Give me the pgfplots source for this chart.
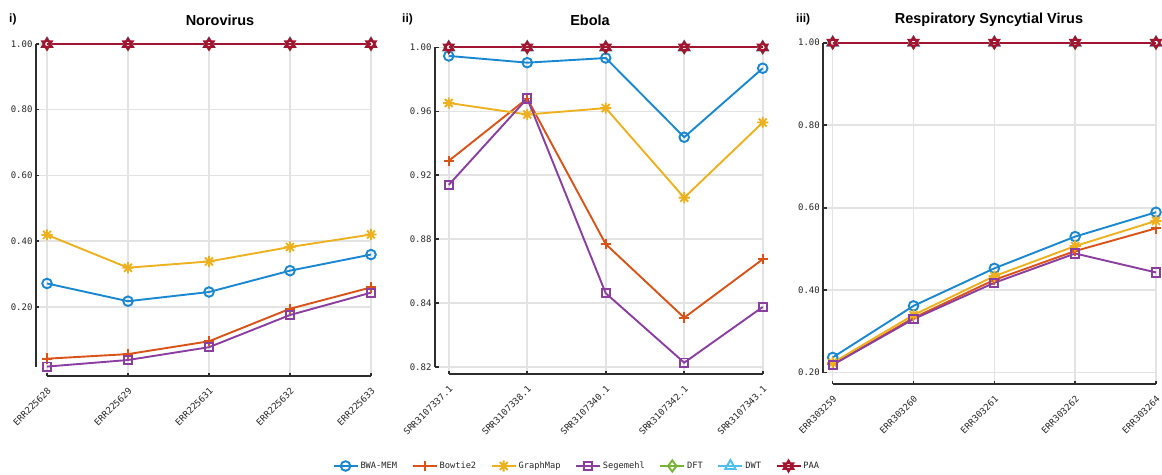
\documentclass[border=0pt]{standalone}
\usepackage{pgfplots}
\pgfplotsset{compat=1.18}
\usepackage{fontspec}
\setmainfont{Liberation Sans}
\newfontfamily\monof{DejaVu Sans Mono}
\definecolor{cBWA}{RGB}{26,136,208}
\definecolor{cBow}{RGB}{217,83,25}
\definecolor{cGra}{RGB}{237,177,32}
\definecolor{cSeg}{RGB}{138,62,160}
\definecolor{cDFT}{RGB}{119,180,52}
\definecolor{cDWT}{RGB}{77,190,238}
\definecolor{cPAA}{RGB}{162,20,47}
\definecolor{axc}{RGB}{45,45,45}
\tikzset{axln/.style={line width=2pt, color=axc}}
\pgfdeclareplotmark{mstar}{%
 \pgfpathmoveto{\pgfqpoint{-\pgfplotmarksize}{0pt}}\pgfpathlineto{\pgfqpoint{\pgfplotmarksize}{0pt}}%
 \pgfpathmoveto{\pgfqpoint{0pt}{-\pgfplotmarksize}}\pgfpathlineto{\pgfqpoint{0pt}{\pgfplotmarksize}}%
 \pgfpathmoveto{\pgfqpoint{-0.707\pgfplotmarksize}{-0.707\pgfplotmarksize}}\pgfpathlineto{\pgfqpoint{0.707\pgfplotmarksize}{0.707\pgfplotmarksize}}%
 \pgfpathmoveto{\pgfqpoint{-0.707\pgfplotmarksize}{0.707\pgfplotmarksize}}\pgfpathlineto{\pgfqpoint{0.707\pgfplotmarksize}{-0.707\pgfplotmarksize}}%
 \pgfusepathqstroke}
\pgfdeclareplotmark{hexa}{%
 \pgfpathmoveto{\pgfqpointpolar{90}{\pgfplotmarksize}}\pgfpathlineto{\pgfqpointpolar{210}{\pgfplotmarksize}}\pgfpathlineto{\pgfqpointpolar{330}{\pgfplotmarksize}}\pgfpathclose
 \pgfpathmoveto{\pgfqpointpolar{270}{\pgfplotmarksize}}\pgfpathlineto{\pgfqpointpolar{30}{\pgfplotmarksize}}\pgfpathlineto{\pgfqpointpolar{150}{\pgfplotmarksize}}\pgfpathclose
 \pgfusepathqstroke}
\pgfplotscreateplotcyclelist{tools}{%
 {cBWA, mark=o, mark size=4.8pt},%
 {cBow, mark=+, mark size=5.2pt},%
 {cGra, mark=mstar, mark size=5.6pt},%
 {cSeg, mark=square, mark size=4.1pt},%
 {cDFT, mark=diamond, mark size=5.6pt},%
 {cDWT, mark=triangle, mark size=6pt},%
 {cPAA, mark=hexa, mark size=5.6pt}%
}
\pgfplotsset{
 base/.style={
  scale only axis, clip=false,
  axis x line*=bottom, axis y line*=left,
  axis line style={draw=none},
  xmax=4, ymax=1, xtick={0,1,2,3,4},
  grid=major, major grid style={line width=1.6pt, color=black!11},
  tick align=inside, major tick length=3.5pt,
  tick style={line width=1.6pt, color=axc},
  ticklabel style={font=\monof\fontsize{9}{10}\selectfont, text=black!85},
  xticklabel style={rotate=45, anchor=east, yshift=-11.1pt, xshift=-4.4pt},
  cycle list name=tools,
  every axis plot/.append style={line width=1.9pt, mark options={solid}},
  legend image code/.code={\draw[mark repeat=2,mark phase=2] plot coordinates {(0pt,0pt)(12pt,0pt)(24pt,0pt)};},
 },
}
\begin{document}
\begin{tikzpicture}
\useasboundingbox (0pt,0pt) rectangle (1162pt,-474pt);
% Panel i
\begin{axis}[base, at={(36pt,-44pt)}, anchor=north west, width=335pt, height=332pt,
  xmin=-0.136, ymin=-0.0107,
  ytick={0.2,0.4,0.6,0.8,1.0}, yticklabels={0.20,0.40,0.60,0.80,1.00},
  xticklabels={ERR225628,ERR225629,ERR225631,ERR225632,ERR225633}]
\addplot coordinates {(0,0.271)(1,0.217)(2,0.245)(3,0.310)(4,0.359)};
\addplot coordinates {(0,0.042)(1,0.056)(2,0.095)(3,0.194)(4,0.259)};
\addplot coordinates {(0,0.419)(1,0.319)(2,0.338)(3,0.382)(4,0.420)};
\addplot coordinates {(0,0.018)(1,0.038)(2,0.077)(3,0.175)(4,0.243)};
\addplot coordinates {(0,1)(1,1)(2,1)(3,1)(4,1)};
\addplot coordinates {(0,1)(1,1)(2,1)(3,1)(4,1)};
\addplot coordinates {(0,1)(1,1)(2,1)(3,1)(4,1)};
\draw[axln] (axis cs:0,-0.0107) -- (axis cs:4,-0.0107);
\draw[axln] (axis cs:-0.136,0.017) -- (axis cs:-0.136,1);
\end{axis}
% Panel ii
\begin{axis}[base, at={(435pt,-47.3pt)}, anchor=north west, width=327.7pt, height=326.7pt,
  xmin=-0.175, ymin=0.7958,
  ytick={0.80,0.84,0.88,0.92,0.96,1.00}, yticklabels={0.82,0.84,0.88,0.92,0.96,1.00},
  xticklabels={SRR3107337.1,SRR3107338.1,SRR3107340.1,SRR3107342.1,SRR3107343.1},
  legend columns=7,
  legend style={at={(0.433,-0.2816)}, anchor=center, draw=none, fill=none,
    font=\monof\fontsize{8.7}{10}\selectfont, text=black!85,
    /tikz/every even column/.append style={column sep=12.5pt}}]
\addplot coordinates {(0,0.9946)(1,0.9904)(2,0.9933)(3,0.9438)(4,0.9869)};
\addplot coordinates {(0,0.929)(1,0.968)(2,0.877)(3,0.831)(4,0.8675)};
\addplot coordinates {(0,0.9652)(1,0.958)(2,0.962)(3,0.906)(4,0.953)};
\addplot coordinates {(0,0.914)(1,0.968)(2,0.8463)(3,0.8029)(4,0.8377)};
\addplot coordinates {(0,1)(1,1)(2,1)(3,1)(4,1)};
\addplot coordinates {(0,1)(1,1)(2,1)(3,1)(4,1)};
\addplot coordinates {(0,1)(1,1)(2,1)(3,1)(4,1)};
\legend{BWA-MEM,Bowtie2,GraphMap,Segemehl,DFT,DWT,PAA}
\draw[axln] (axis cs:0,0.7958) -- (axis cs:4,0.7958);
\draw[axln] (axis cs:-0.175,0.80) -- (axis cs:-0.175,1);
\end{axis}
% Panel iii
\begin{axis}[base, at={(823.3pt,-42.7pt)}, anchor=north west, width=332.7pt, height=341.3pt,
  xmin=-0.116, ymin=0.1726,
  ytick={0.2,0.4,0.6,0.8,1.0}, yticklabels={0.20,0.40,0.60,0.80,1.00},
  xticklabels={ERR303259,ERR303260,ERR303261,ERR303262,ERR303264}]
\addplot coordinates {(0,0.237)(1,0.362)(2,0.453)(3,0.530)(4,0.589)};
\addplot coordinates {(0,0.220)(1,0.333)(2,0.425)(3,0.495)(4,0.550)};
\addplot coordinates {(0,0.224)(1,0.340)(2,0.434)(3,0.507)(4,0.568)};
\addplot coordinates {(0,0.219)(1,0.330)(2,0.418)(3,0.489)(4,0.443)};
\addplot coordinates {(0,1)(1,1)(2,1)(3,1)(4,1)};
\addplot coordinates {(0,1)(1,1)(2,1)(3,1)(4,1)};
\addplot coordinates {(0,1)(1,1)(2,1)(3,1)(4,1)};
\draw[axln] (axis cs:0,0.1726) -- (axis cs:4,0.1726);
\draw[axln] (axis cs:-0.116,0.2) -- (axis cs:-0.116,1);
\end{axis}
% titles and panel labels
\node[font=\fontsize{14.5}{16}\selectfont\bfseries] at (220pt,-20pt) {Norovirus};
\node[font=\fontsize{14.5}{16}\selectfont\bfseries] at (590pt,-20pt) {Ebola};
\node[font=\fontsize{14.5}{16}\selectfont\bfseries] at (989pt,-20pt) {Respiratory Syncytial Virus};
\node[font=\fontsize{12}{14}\selectfont\bfseries, anchor=west, inner sep=0pt] at (9pt,-19pt) {i)};
\node[font=\fontsize{12}{14}\selectfont\bfseries, anchor=west, inner sep=0pt] at (402pt,-19pt) {ii)};
\node[font=\fontsize{12}{14}\selectfont\bfseries, anchor=west, inner sep=0pt] at (796pt,-19pt) {iii)};
\end{tikzpicture}
\end{document}
